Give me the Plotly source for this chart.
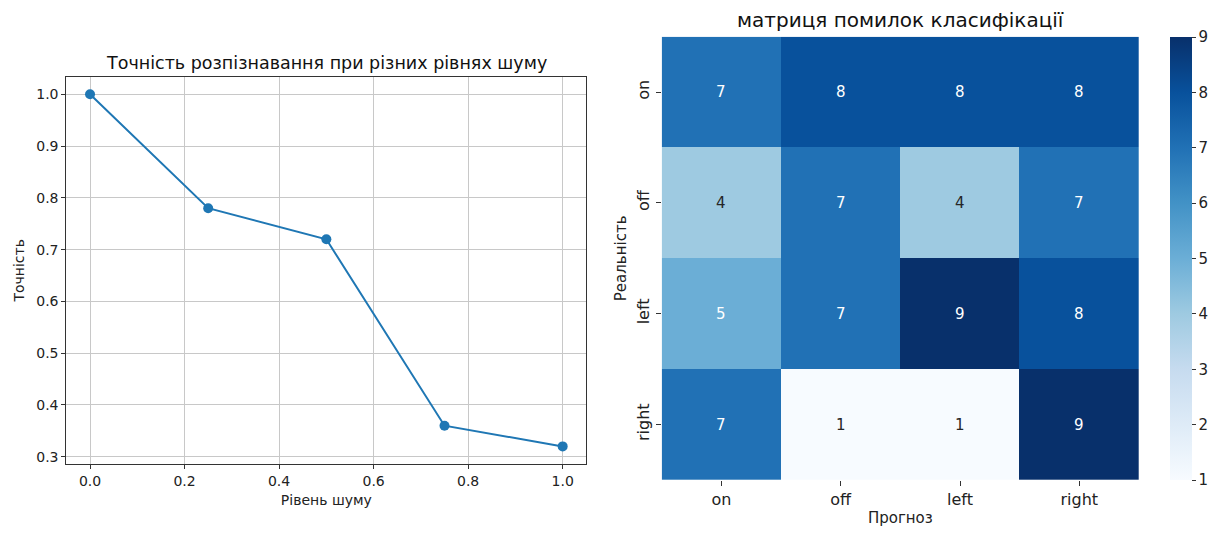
import plotly.graph_objects as go

# Left chart data
noise_levels = [0.0, 0.25, 0.5, 0.75, 1.0]
accuracy = [1.0, 0.78, 0.72, 0.36, 0.32]

# Confusion matrix data
classes = ["on", "off", "left", "right"]
confusion = [
    [7, 8, 8, 8],
    [4, 7, 4, 7],
    [5, 7, 9, 8],
    [7, 1, 1, 9],
]

W, H = 1224, 533
FONT = "DejaVu Sans"

fig = go.Figure()

fig.add_trace(go.Scatter(
    x=noise_levels, y=accuracy, mode="lines+markers",
    line=dict(color="#1f77b4", width=2),
    marker=dict(color="#1f77b4", size=10),
    xaxis="x", yaxis="y", showlegend=False,
))

fig.add_trace(go.Heatmap(
    z=confusion, x=classes, y=classes,
    colorscale="Blues", zmin=1, zmax=9,
    xaxis="x2", yaxis="y2", xgap=0, ygap=0,
    colorbar=dict(
        x=1169.5 / W, xanchor="left", thickness=22, xpad=0, ypad=0,
        y=53 / H, yanchor="bottom", len=(480 - 37) / H, lenmode="fraction",
        outlinewidth=0, ticks="outside", ticklen=4, tickcolor="#333",
        tickvals=list(range(1, 10)), tickfont=dict(size=15, color="#222", family=FONT),
    ),
    hoverinfo="skip",
))

annotations = []
for i, row in enumerate(confusion):
    for j, v in enumerate(row):
        annotations.append(dict(
            x=classes[j], y=classes[i], xref="x2", yref="y2",
            text=str(v), showarrow=False,
            font=dict(size=15, family=FONT, color="#262626" if v <= 4 else "#ffffff"),
        ))

annotations += [
    dict(text="Точність розпізнавання при різних рівнях шуму", x=326 / W, y=(533 - 63) / H,
         xref="paper", yref="paper", xanchor="center", yanchor="middle", showarrow=False,
         font=dict(size=17.5, family=FONT, color="#111")),
    dict(text="матриця помилок класифікації", x=900 / W, y=(533 - 20) / H,
         xref="paper", yref="paper", xanchor="center", yanchor="middle", showarrow=False,
         font=dict(size=20, family=FONT, color="#111")),
]

fig.update_layout(
    width=W, height=H,
    margin=dict(l=0, r=0, t=0, b=0),
    paper_bgcolor="white", plot_bgcolor="white",
    font=dict(family=FONT, color="#222"),
    annotations=annotations,
    xaxis=dict(
        domain=[66.4 / W, 586.3 / W], range=[-0.05, 1.05],
        tickvals=[0, 0.2, 0.4, 0.6, 0.8, 1.0], ticktext=["0.0", "0.2", "0.4", "0.6", "0.8", "1.0"],
        showgrid=True, gridcolor="#c8c8c8", gridwidth=1.3,
        showline=True, linecolor="#333", linewidth=1.2, mirror=True,
        ticks="outside", ticklen=4, tickcolor="#333", zeroline=False,
        tickfont=dict(size=14, color="#222"),
        title=dict(text="Рівень шуму", font=dict(size=14, color="#222"), standoff=7),
        anchor="y",
    ),
    yaxis=dict(
        domain=[(533 - 464) / H, (533 - 76.7) / H], range=[0.286, 1.034],
        tickvals=[0.3, 0.4, 0.5, 0.6, 0.7, 0.8, 0.9, 1.0],
        ticktext=["0.3", "0.4", "0.5", "0.6", "0.7", "0.8", "0.9", "1.0"],
        showgrid=True, gridcolor="#c8c8c8", gridwidth=1.3,
        showline=True, linecolor="#333", linewidth=1.2, mirror=True,
        ticks="outside", ticklen=4, tickcolor="#333", zeroline=False,
        tickfont=dict(size=14, color="#222"),
        title=dict(text="Точність", font=dict(size=14, color="#222"), standoff=8),
        anchor="x",
    ),
    xaxis2=dict(
        domain=[661.7 / W, 1139 / W], anchor="y2",
        ticks="outside", ticklen=5, tickcolor="#333", showgrid=False, zeroline=False,
        tickfont=dict(size=16, color="#222"),
        title=dict(text="Прогноз", font=dict(size=15, color="#222"), standoff=4),
    ),
    yaxis2=dict(
        domain=[53 / H, (533 - 36.7) / H], anchor="x2", autorange="reversed",
        ticks="outside", ticklen=5, tickcolor="#333", showgrid=False, zeroline=False,
        tickangle=-90, tickfont=dict(size=16, color="#222"),
        title=dict(text="Реальність", font=dict(size=15, color="#222"), standoff=4),
    ),
)

fig.write_html(
    "out.html",
    config={"displayModeBar": False},
    post_script="document.body.style.margin='0';document.body.style.overflow='hidden';",
)
